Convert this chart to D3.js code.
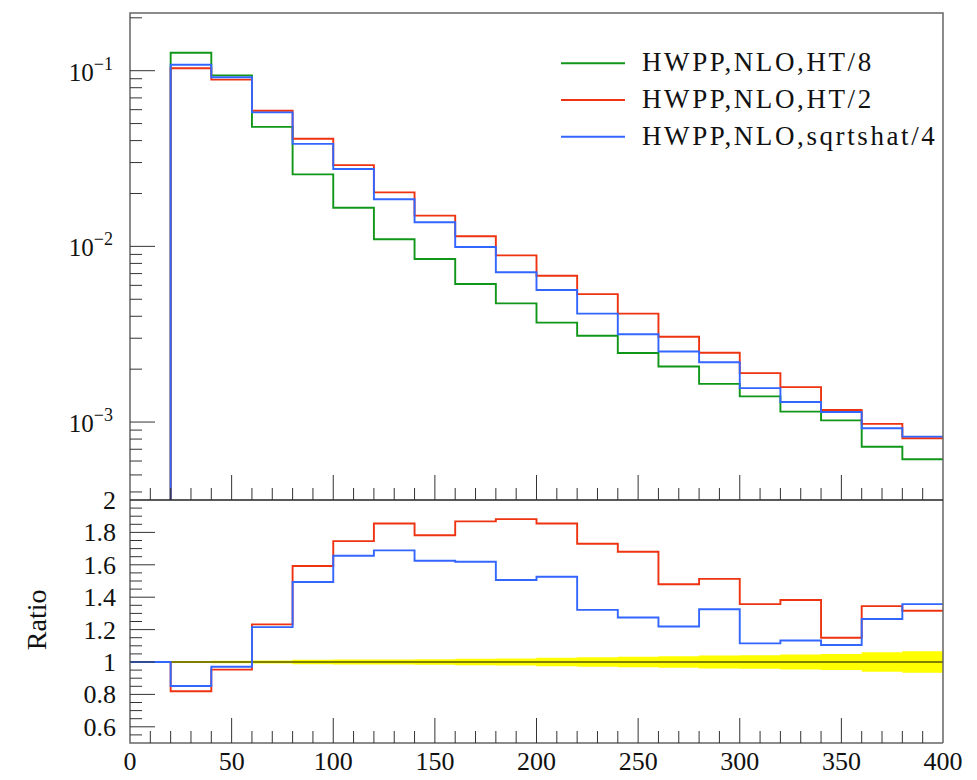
<!DOCTYPE html>
<html lang="en">
<head>
    <meta charset="UTF-8">
    <title>HWPP NLO scale comparison</title>
    <style>
        body {
            margin: 0;
            background-color: white;
        }
        svg {
            display: block;
        }
        text {
            font-family: "Liberation Serif", "DejaVu Serif", serif;
            fill: #111;
        }
    </style>
    <script src="https://d3js.org/d3.v7.min.js"></script>
</head>
<body>
    <svg width="977" height="780"></svg>

    <script>
        // bin edges (lower edges of the filled bins, last entry is the upper edge)
        const binEdges = [20, 40, 60, 80, 100, 120, 140, 160, 180, 200, 220, 240, 260, 280, 300, 320, 340, 360, 380, 400];

        // main panel values, one per bin 20-40 ... 380-400
        const ht8 = [0.1266, 0.0941, 0.0479, 0.0257, 0.0166, 0.01097, 0.00848, 0.00611, 0.00474, 0.00368,
                     0.0031, 0.00247, 0.00207, 0.00165, 0.0014, 0.001146, 0.001022, 0.000724, 0.000614];
        const ht2 = [0.1032, 0.0889, 0.0592, 0.0410, 0.0290, 0.0203, 0.01496, 0.01142, 0.00889, 0.00681,
                     0.00535, 0.00414, 0.00306, 0.00248, 0.0019, 0.00158, 0.00117, 0.000976, 0.000809];
        const sqrtshat4 = [0.1082, 0.0917, 0.0579, 0.0383, 0.02757, 0.01853, 0.01371, 0.00992, 0.00713, 0.00565,
                           0.00414, 0.00316, 0.00252, 0.00219, 0.00156, 0.0013, 0.00114, 0.000922, 0.000826];

        // ratio panel, bins 0-20 ... 380-400
        const ratioEdges = [0, 20, 40, 60, 80, 100, 120, 140, 160, 180, 200, 220, 240, 260, 280, 300, 320, 340, 360, 380, 400];
        const ratioHT2 = [1, 0.819, 0.953, 1.232, 1.593, 1.746, 1.855, 1.782, 1.868, 1.882,
                          1.855, 1.730, 1.681, 1.48, 1.513, 1.357, 1.383, 1.150, 1.345, 1.316];
        const ratioSqrt = [1, 0.852, 0.971, 1.215, 1.494, 1.656, 1.689, 1.625, 1.619, 1.506,
                           1.526, 1.322, 1.275, 1.219, 1.326, 1.115, 1.133, 1.105, 1.265, 1.357];
        // half width of the reference uncertainty band (bins 20-40 ... 380-400)
        const bandErr = [0.006, 0.007, 0.009, 0.014, 0.015, 0.016, 0.017, 0.02, 0.021, 0.026,
                         0.030, 0.033, 0.036, 0.040, 0.042, 0.047, 0.049, 0.060, 0.066];

        const series = [
            { name: "HWPP,NLO,HT/8", color: "#109618", values: ht8 },
            { name: "HWPP,NLO,HT/2", color: "#EE3311", values: ht2, ratio: ratioHT2 },
            { name: "HWPP,NLO,sqrtshat/4", color: "#3366FF", values: sqrtshat4, ratio: ratioSqrt }
        ];

        const xTickLabels = [0, 50, 100, 150, 200, 250, 300, 350, 400];
        const mainTickLabels = [-3, -2, -1];           // exponents of 10
        const ratioTickLabels = [0.6, 0.8, 1, 1.2, 1.4, 1.6, 1.8, 2];

        const svg = d3.select("svg");

        const left = 130, right = 943;
        const mainTop = 13, split = 500, bottom = 743;

        const x = d3.scaleLinear().domain([0, 400]).range([left, right]);
        const yMain = d3.scaleLog().domain([3.6e-4, 0.213]).range([split, mainTop]);
        const yRatio = d3.scaleLinear().domain([0.5, 2]).range([bottom, split]);

        // ----- ratio band -----
        const bandPts = binEdges.map((e, i) => ({ x: e, err: bandErr[Math.min(i, bandErr.length - 1)] }));
        svg.append("path")
            .attr("d", d3.area()
                .curve(d3.curveStepAfter)
                .x(d => x(d.x))
                .y0(d => yRatio(1 - d.err))
                .y1(d => yRatio(1 + d.err))(bandPts))
            .attr("fill", "#ffff00");

        svg.append("line")
            .attr("x1", left).attr("x2", right)
            .attr("y1", yRatio(1)).attr("y2", yRatio(1))
            .attr("stroke", "black").attr("stroke-width", 1.2);

        // ----- histograms -----
        const mainLine = d3.line()
            .curve(d3.curveStepAfter)
            .x(d => x(d[0]))
            .y(d => yMain(d[1]));

        const ratioLine = d3.line()
            .curve(d3.curveStepAfter)
            .x(d => x(d[0]))
            .y(d => yRatio(d[1]));

        series.forEach(s => {
            // start at the bottom of the panel (empty first bin), then step through bins
            const pts = [[binEdges[0], yMain.domain()[0]]];
            s.values.forEach((v, i) => pts.push([binEdges[i], v]));
            pts.push([binEdges[binEdges.length - 1], s.values[s.values.length - 1]]);
            svg.append("path")
                .attr("d", mainLine(pts))
                .attr("fill", "none")
                .attr("stroke", s.color)
                .attr("stroke-width", 1.9);

            if (s.ratio) {
                const rp = s.ratio.map((v, i) => [ratioEdges[i], v]);
                rp.push([ratioEdges[ratioEdges.length - 1], s.ratio[s.ratio.length - 1]]);
                svg.append("path")
                    .attr("d", ratioLine(rp))
                    .attr("fill", "none")
                    .attr("stroke", s.color)
                    .attr("stroke-width", 1.9);
            }
        });

        // ----- frames -----
        const frame = "#666";
        svg.append("path")
            .attr("d", `M${left},${split}V${mainTop}H${right}V${bottom}`)
            .attr("fill", "none").attr("stroke", frame).attr("stroke-width", 1.5);
        svg.append("path")
            .attr("d", `M${left},${split}V${bottom}H${right}`)
            .attr("fill", "none").attr("stroke", frame).attr("stroke-width", 1.5);
        svg.append("line")
            .attr("x1", left).attr("x2", right)
            .attr("y1", split).attr("y2", split)
            .attr("stroke", "#222").attr("stroke-width", 1.5);

        // ----- x ticks (both panels, pointing up) -----
        const xTicks = d3.range(0, 401, 10);
        [split, bottom].forEach(yb => {
            svg.selectAll(null)
                .data(xTicks.filter(t => t > 0 && t < 400))
                .enter().append("line")
                .attr("x1", d => x(d)).attr("x2", d => x(d))
                .attr("y1", yb)
                .attr("y2", d => yb - (d % 50 === 0 ? 25 : 12))
                .attr("stroke", "#333").attr("stroke-width", 1);
        });
        svg.selectAll("text.xlab")
            .data(xTickLabels)
            .enter().append("text")
            .attr("class", "xlab")
            .attr("x", d => x(d))
            .attr("y", 770)
            .attr("text-anchor", "middle")
            .style("font-size", "26px")
            .text(d => d);

        // ----- main y ticks (log) -----
        const minorMain = [];
        for (let e = -4; e <= -1; e++) {
            for (let m = 1; m <= 9; m++) {
                const v = m * Math.pow(10, e);
                if (v > yMain.domain()[0] && v < yMain.domain()[1]) minorMain.push({ v: v, major: m === 1 });
            }
        }
        svg.selectAll(null)
            .data(minorMain)
            .enter().append("line")
            .attr("x1", left)
            .attr("x2", d => left + (d.major ? 25 : 12))
            .attr("y1", d => yMain(d.v)).attr("y2", d => yMain(d.v))
            .attr("stroke", "#333").attr("stroke-width", 1);

        const mainLabels = svg.selectAll("text.ylab")
            .data(mainTickLabels)
            .enter().append("text")
            .attr("class", "ylab")
            .attr("x", 113)
            .attr("y", d => yMain(Math.pow(10, d)) + 10)
            .attr("text-anchor", "end")
            .style("font-size", "25px");
        mainLabels.append("tspan").text("10");
        mainLabels.append("tspan")
            .attr("dy", -11)
            .style("font-size", "18px")
            .text(d => "\u2212" + (-d));

        // ----- ratio y ticks -----
        const ratioTicks = d3.range(0.55, 2.001, 0.05).map(v => Math.round(v * 100) / 100);
        svg.selectAll(null)
            .data(ratioTicks.filter(v => v < 2))
            .enter().append("line")
            .attr("x1", left)
            .attr("x2", d => left + (Math.round(d * 100) % 20 === 0 ? 25 : 12))
            .attr("y1", d => yRatio(d)).attr("y2", d => yRatio(d))
            .attr("stroke", "#333").attr("stroke-width", 1);

        svg.selectAll("text.rlab")
            .data(ratioTickLabels)
            .enter().append("text")
            .attr("class", "rlab")
            .attr("x", 116)
            .attr("y", d => yRatio(d) + 9)
            .attr("text-anchor", "end")
            .style("font-size", "26px")
            .text(d => d);

        svg.append("text")
            .attr("transform", `translate(46,${yRatio(1.26)}) rotate(-90)`)
            .attr("text-anchor", "middle")
            .style("font-size", "28px")
            .text("Ratio");

        // ----- legend -----
        series.forEach((s, i) => {
            const ly = 63.3 + i * 36.7;
            svg.append("line")
                .attr("x1", 561).attr("x2", 625)
                .attr("y1", ly).attr("y2", ly)
                .attr("stroke", s.color).attr("stroke-width", 1.9);
            svg.append("text")
                .attr("x", 642)
                .attr("y", ly + 8)
                .style("font-size", "27px")
                .style("letter-spacing", "2.6px")
                .text(s.name);
        });
    </script>
</body>
</html>
